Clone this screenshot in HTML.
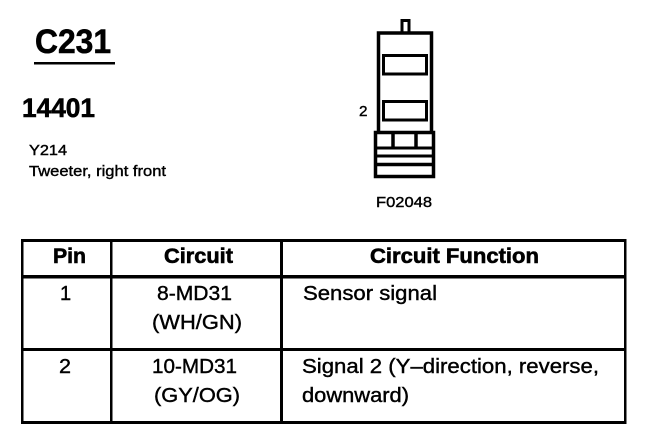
<!DOCTYPE html>
<html><head><meta charset="utf-8">
<style>
html,body{margin:0;padding:0;background:#fff}
svg{display:block}
text{font-family:"Liberation Sans",sans-serif;fill:#000}
.b{font-weight:bold;stroke:#000;stroke-width:.6}
.r{stroke:#000;stroke-width:.4}
</style></head><body>
<svg width="672" height="438" viewBox="0 0 672 438" xmlns="http://www.w3.org/2000/svg">
<rect width="672" height="438" fill="#fff"/>
<text class="b" x="35" y="53" font-size="34" textLength="76" lengthAdjust="spacingAndGlyphs">C231</text>
<rect x="34" y="62" width="81" height="2.5" fill="#000"/>
<text class="b" x="22" y="117" font-size="27" textLength="73" lengthAdjust="spacingAndGlyphs">14401</text>
<text class="r" x="29" y="155" font-size="14.5" textLength="38" lengthAdjust="spacingAndGlyphs">Y214</text>
<text class="r" x="29" y="176" font-size="15" textLength="137" lengthAdjust="spacingAndGlyphs">Tweeter, right front</text>
<text class="r" x="359" y="116" font-size="15" textLength="8.5" lengthAdjust="spacingAndGlyphs">2</text>
<text class="r" x="376" y="207" font-size="15" textLength="56" lengthAdjust="spacingAndGlyphs">F02048</text>
<g fill="none" stroke="#000">
<path d="M402 32V20.5H409V32" stroke-width="3"/>
<rect x="378.5" y="33" width="53" height="100" stroke-width="3.5"/>
<rect x="383.5" y="55.5" width="43" height="18.5" stroke-width="3"/>
<rect x="383.5" y="101.5" width="43" height="18.5" stroke-width="3"/>
<rect x="375.5" y="132.5" width="58" height="44" fill="#fff" stroke-width="3.5"/>
<path d="M393 133V148M416 133V148" stroke-width="3.5"/>
<path d="M375 148H434" stroke-width="3"/>
<path d="M375 156H434" stroke-width="3"/>
<path d="M375 164.5H434" stroke-width="3.5"/>
</g>
<g fill="#000">
<rect x="21" y="239" width="605" height="3"/>
<rect x="21" y="275" width="605" height="3.5"/>
<rect x="21" y="348" width="605" height="3"/>
<rect x="21" y="421" width="605" height="3"/>
<rect x="21" y="239" width="2.5" height="185"/>
<rect x="110" y="239" width="2.5" height="185"/>
<rect x="280" y="239" width="3" height="185"/>
<rect x="624" y="239" width="2.5" height="185"/>
</g>
<text class="b" x="53" y="263" font-size="21" textLength="33" lengthAdjust="spacingAndGlyphs">Pin</text>
<text class="b" x="164" y="263" font-size="21" textLength="69" lengthAdjust="spacingAndGlyphs">Circuit</text>
<text class="b" x="370" y="263" font-size="21" textLength="169" lengthAdjust="spacingAndGlyphs">Circuit Function</text>
<text class="r" x="60" y="300" font-size="20">1</text>
<text class="r" x="157" y="300" font-size="20" textLength="75" lengthAdjust="spacingAndGlyphs">8-MD31</text>
<text class="r" x="152" y="329" font-size="20" textLength="90" lengthAdjust="spacingAndGlyphs">(WH/GN)</text>
<text class="r" x="303" y="300" font-size="20" textLength="134" lengthAdjust="spacingAndGlyphs">Sensor signal</text>
<text class="r" x="59" y="373" font-size="20" textLength="12" lengthAdjust="spacingAndGlyphs">2</text>
<text class="r" x="152" y="373" font-size="20" textLength="85" lengthAdjust="spacingAndGlyphs">10-MD31</text>
<text class="r" x="154" y="402" font-size="20" textLength="86" lengthAdjust="spacingAndGlyphs">(GY/OG)</text>
<text class="r" x="302" y="373" font-size="20" textLength="297" lengthAdjust="spacingAndGlyphs">Signal 2 (Y–direction, reverse,</text>
<text class="r" x="302" y="402" font-size="20" textLength="107" lengthAdjust="spacingAndGlyphs">downward)</text>
</svg>
</body></html>
